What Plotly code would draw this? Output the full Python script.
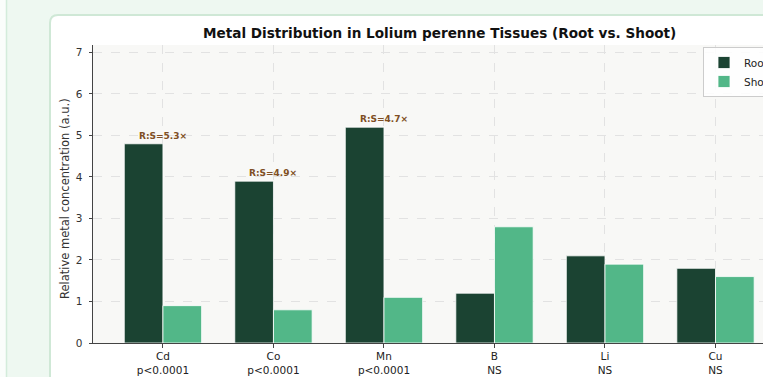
import plotly.graph_objects as go

# ---- data ----
metals = ["Cd", "Co", "Mn", "B", "Li", "Cu"]
root_values = [4.8, 3.9, 5.2, 1.2, 2.1, 1.8]
shoot_values = [0.9, 0.8, 1.1, 2.8, 1.9, 1.6]
significance = ["p<0.0001", "p<0.0001", "p<0.0001", "NS", "NS", "NS"]
y_ticks = [0, 1, 2, 3, 4, 5, 6, 7]

ROOT_C = "#1b4332"
SHOOT_C = "#52b788"
FONT = "DejaVu Sans"

# ---- geometry helpers (page pixels -> paper coords) ----
FW, FH = 763, 377
L, R, T, B = 93, 763, 45, 343
W, H = R - L, B - T


def px(x):
    return (x - L) / W


def py(y):
    return (B - y) / H


fig = go.Figure()
fig.add_trace(go.Bar(x=metals, y=root_values, name="Root",
                     marker=dict(color=ROOT_C, line=dict(color="white", width=0.8))))
fig.add_trace(go.Bar(x=metals, y=shoot_values, name="Shoot",
                     marker=dict(color=SHOOT_C, line=dict(color="white", width=0.8))))

ticktext = [f"{m}<br>{s.replace('<', '&lt;')}" for m, s in zip(metals, significance)]

annotations = []
for m, r, s, sig in zip(metals, root_values, shoot_values, significance):
    if sig != "NS":
        annotations.append(dict(
            x=m, y=r, xref="x", yref="y", text=f"<b>R:S={r / s:.1f}×</b>",
            showarrow=False, yanchor="bottom", yshift=1,
            font=dict(family=FONT, size=9, color="#7f4f24")))

# title
annotations.append(dict(
    x=px(439), y=py(33), xref="paper", yref="paper", showarrow=False,
    text="<b>Metal Distribution in Lolium perenne Tissues (Root vs. Shoot)</b>",
    xanchor="center", yanchor="middle", font=dict(family=FONT, size=13.6, color="#111")))
# y-axis label
annotations.append(dict(
    x=px(65), y=py(199), xref="paper", yref="paper", showarrow=False, textangle=-90,
    text="Relative metal concentration (a.u.)", xanchor="center", yanchor="middle",
    font=dict(family=FONT, size=11.5, color="#333")))

r0 = 8
card_path = (f"M {px(50)},{py(390)} L {px(50)},{py(15 + r0)} "
             f"Q {px(50)},{py(15)} {px(50 + r0)},{py(15)} "
             f"L {px(790)},{py(15)} L {px(790)},{py(390)} Z")

shapes = [
    dict(type="rect", xref="paper", yref="paper", x0=px(-10), x1=px(6), y0=py(-10), y1=py(390),
         fillcolor="#fafdfb", line=dict(width=0), layer="below"),
    dict(type="line", xref="paper", yref="paper", x0=px(6.5), x1=px(6.5), y0=py(-10), y1=py(390),
         line=dict(color="#d3ecdb", width=1.5), layer="below"),
    dict(type="path", xref="paper", yref="paper", path=card_path,
         fillcolor="white", line=dict(color="#cfe8d6", width=2), layer="below"),
    dict(type="rect", xref="paper", yref="paper", x0=0, x1=1.05, y0=0, y1=1,
         fillcolor="#f8f8f6", line=dict(width=0), layer="below"),
]

fig.update_layout(
    width=FW, height=FH,
    margin=dict(l=L, r=FW - R, t=T, b=FH - B, autoexpand=False),
    paper_bgcolor="#eef8f1", plot_bgcolor="#f8f8f6",
    barmode="group", bargap=0.3, bargroupgap=0,
    font=dict(family=FONT, size=10.5, color="#333"),
    showlegend=True,
    legend=dict(x=px(703), y=py(47), xanchor="left", yanchor="top",
                bgcolor="rgba(255,255,255,0.85)", bordercolor="#cccccc", borderwidth=1,
                font=dict(family=FONT, size=10.5, color="#222"), itemwidth=30,
                tracegroupgap=0),
    annotations=annotations,
    shapes=shapes,
)
fig.update_xaxes(
    range=[-0.633, (R - 163) / 110.5], tickmode="array", tickvals=metals, ticktext=ticktext,
    ticks="outside", ticklen=3.5, tickcolor="#444", showline=True, linecolor="#444", linewidth=1,
    showgrid=True, gridcolor="#e2e2e2", griddash="dash", gridwidth=0.8,
    tickfont=dict(family=FONT, size=10.5, color="#222"), ticklabelstandoff=0)
fig.update_yaxes(
    range=[0, 7.18], tickmode="array", tickvals=y_ticks,
    ticks="outside", ticklen=3.5, tickcolor="#444", showline=True, linecolor="#444", linewidth=1,
    showgrid=True, gridcolor="#e2e2e2", griddash="dash", gridwidth=0.8, zeroline=False,
    tickfont=dict(family=FONT, size=10.5, color="#333"), ticklabelstandoff=4)

fig.write_html("out.html")
